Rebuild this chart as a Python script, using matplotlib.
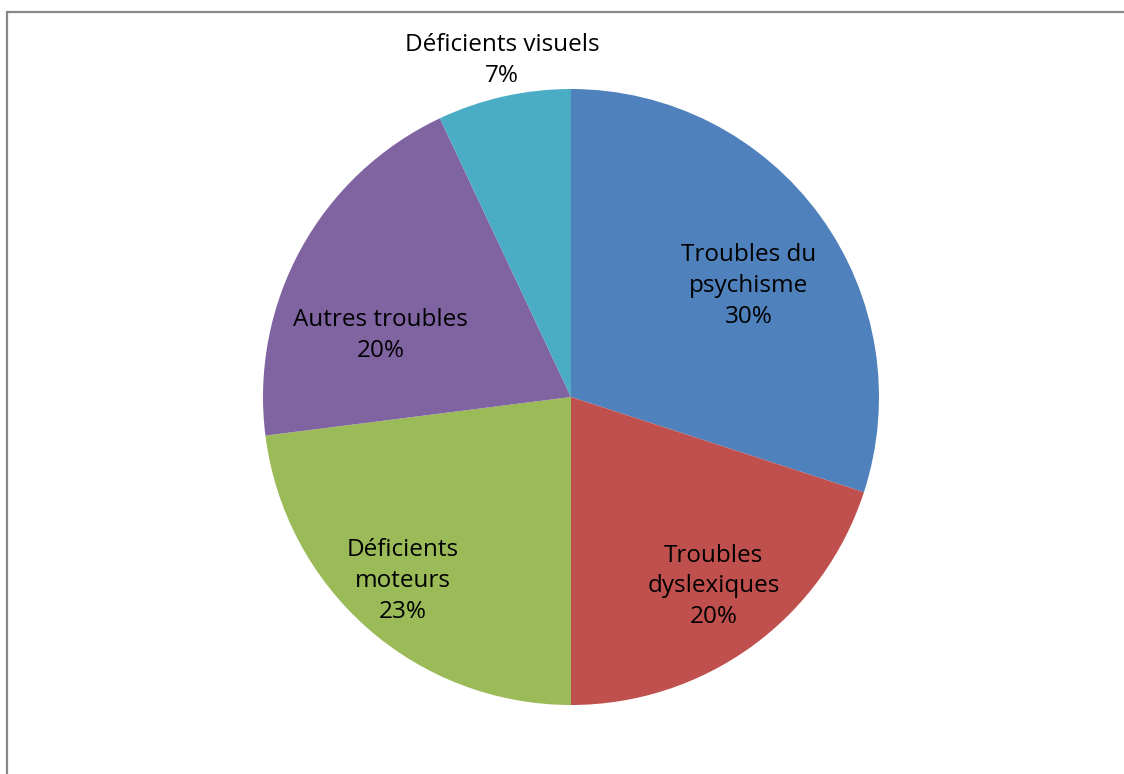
import matplotlib
matplotlib.use("Agg")
import matplotlib.pyplot as plt
import numpy as np
from matplotlib.patches import Rectangle

categories = ["Troubles du\npsychisme", "Troubles\ndyslexiques", "Déficients\nmoteurs", "Autres troubles", "Déficients visuels"]
values = [30, 20, 23, 20, 7]
colors = ["#4F81BD", "#C0504D", "#9BBB59", "#8064A2", "#4BACC6"]
label_r = [0.68, 0.77, 0.81, 0.65, 1.115]
label_dang = [-4, 1, -1, 11, -1]

W, H = 1124, 774
fig = plt.figure(figsize=(W/100, H/100), dpi=100)
cx, cy, R = 571, 397, 308
ax = fig.add_axes([(cx-R)/W, (H-cy-R)/H, 2*R/W, 2*R/H])
wedges, _ = ax.pie(values, colors=colors, startangle=90, counterclock=False, radius=1,
                   wedgeprops=dict(linewidth=0))
ax.set_xlim(-1, 1); ax.set_ylim(-1, 1)
ax.set_aspect("equal")
ax.axis("off")

for w, lab, v, r, da in zip(wedges, categories, values, label_r, label_dang):
    mid = np.deg2rad((w.theta1 + w.theta2)/2 + da)
    ax.text(r*np.cos(mid), r*np.sin(mid), f"{lab}\n{v}%", ha="center", va="center",
            fontsize=17.5, family="Open Sans", linespacing=1.38, color="black", clip_on=False)

fig.patches.append(Rectangle((7/W, -0.1), 1.2, 1-12/H+0.1, transform=fig.transFigure,
                             fill=False, edgecolor="#878787", linewidth=1.6))
fig.savefig("out.png", dpi=100)
